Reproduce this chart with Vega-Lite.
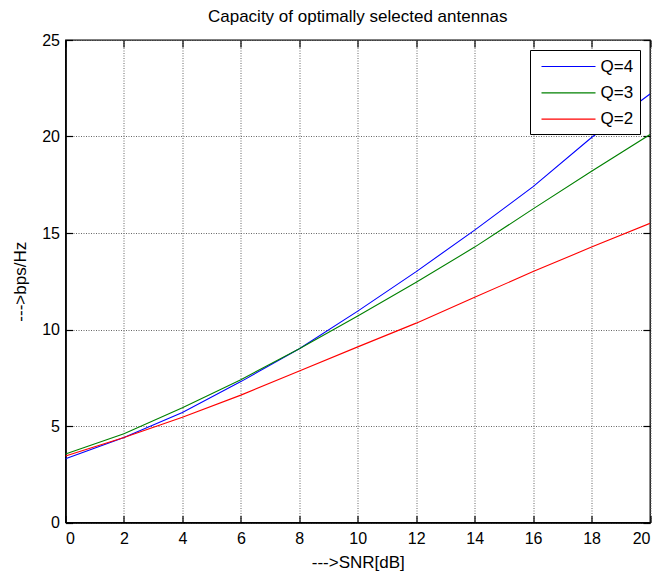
{
  "$schema": "https://vega.github.io/schema/vega-lite/v6.json",
  "width": 584.5,
  "height": 482.5,
  "autosize": "none",
  "padding": {"left": 65.5, "top": 40, "right": 22, "bottom": 48.5},
  "background": "white",
  "config": {
    "font": "Liberation Sans",
    "view": {"stroke": "black", "strokeWidth": 1.3}
  },
  "title": {
    "text": "Capacity of optimally selected antennas",
    "fontSize": 17,
    "fontWeight": "normal",
    "color": "black",
    "offset": 6,
    "anchor": "middle"
  },
  "data": {
    "values": [
      {"snr": 0, "Q": "Q=4", "c": 3.3},
      {"snr": 2, "Q": "Q=4", "c": 4.4},
      {"snr": 4, "Q": "Q=4", "c": 5.7},
      {"snr": 6, "Q": "Q=4", "c": 7.3},
      {"snr": 8, "Q": "Q=4", "c": 9.0},
      {"snr": 10, "Q": "Q=4", "c": 10.95},
      {"snr": 12, "Q": "Q=4", "c": 13.0},
      {"snr": 14, "Q": "Q=4", "c": 15.15},
      {"snr": 16, "Q": "Q=4", "c": 17.4},
      {"snr": 18, "Q": "Q=4", "c": 19.95},
      {"snr": 20, "Q": "Q=4", "c": 22.2},
      {"snr": 0, "Q": "Q=3", "c": 3.55},
      {"snr": 2, "Q": "Q=3", "c": 4.6},
      {"snr": 4, "Q": "Q=3", "c": 5.95},
      {"snr": 6, "Q": "Q=3", "c": 7.4},
      {"snr": 8, "Q": "Q=3", "c": 9.0},
      {"snr": 10, "Q": "Q=3", "c": 10.7},
      {"snr": 12, "Q": "Q=3", "c": 12.45},
      {"snr": 14, "Q": "Q=3", "c": 14.27},
      {"snr": 16, "Q": "Q=3", "c": 16.25},
      {"snr": 18, "Q": "Q=3", "c": 18.2},
      {"snr": 20, "Q": "Q=3", "c": 20.1},
      {"snr": 0, "Q": "Q=2", "c": 3.45},
      {"snr": 2, "Q": "Q=2", "c": 4.4},
      {"snr": 4, "Q": "Q=2", "c": 5.45},
      {"snr": 6, "Q": "Q=2", "c": 6.6},
      {"snr": 8, "Q": "Q=2", "c": 7.85},
      {"snr": 10, "Q": "Q=2", "c": 9.1},
      {"snr": 12, "Q": "Q=2", "c": 10.33},
      {"snr": 14, "Q": "Q=2", "c": 11.67},
      {"snr": 16, "Q": "Q=2", "c": 13.0},
      {"snr": 18, "Q": "Q=2", "c": 14.27},
      {"snr": 20, "Q": "Q=2", "c": 15.5}
    ]
  },
  "resolve": {"axis": {"x": "independent", "y": "independent"}},
  "layer": [
    {
      "mark": {"type": "line", "strokeWidth": 1.1, "clip": true},
      "encoding": {
        "x": {
          "field": "snr",
          "type": "quantitative",
          "scale": {"domain": [0, 20], "nice": false, "zero": false},
          "axis": {
            "title": "--->SNR[dB]",
            "values": [0, 2, 4, 6, 8, 10, 12, 14, 16, 18, 20],
            "format": "d",
            "grid": true,
            "gridColor": "#666666",
            "gridDash": [1, 1.5],
            "gridOpacity": 1,
            "gridWidth": 1,
            "domainColor": "black",
            "domainWidth": 1.6,
            "tickColor": "black",
            "tickWidth": 1.2,
            "tickSize": -7,
            "labelFontSize": 16,
            "labelColor": "black",
            "labelPadding": 15,
            "titleFontSize": 17,
            "titleFontWeight": "normal",
            "titleColor": "black",
            "titlePadding": 8
          }
        },
        "y": {
          "field": "c",
          "type": "quantitative",
          "scale": {"domain": [0, 25], "nice": false},
          "axis": {
            "title": "--->bps/Hz",
            "values": [0, 5, 10, 15, 20, 25],
            "grid": true,
            "gridColor": "#666666",
            "gridDash": [1, 1.5],
            "gridOpacity": 1,
            "gridWidth": 1,
            "domainColor": "black",
            "domainWidth": 1.6,
            "tickColor": "black",
            "tickWidth": 1.2,
            "tickSize": -7,
            "labelFontSize": 16,
            "labelColor": "black",
            "labelPadding": 13,
            "titleFontSize": 17,
            "titleFontWeight": "normal",
            "titleColor": "black",
            "titlePadding": 12
          }
        },
        "color": {
          "field": "Q",
          "type": "nominal",
          "scale": {"domain": ["Q=4", "Q=3", "Q=2"], "range": ["#0000FF", "#008000", "#FF0000"]},
          "legend": {
            "title": null,
            "orient": "none",
            "legendX": 464.5,
            "legendY": 10,
            "symbolType": "M-3,0H3",
            "symbolSize": 324,
            "symbolStrokeWidth": 1.2,
            "symbolOffset": 22,
            "labelFontSize": 17,
            "labelColor": "black",
            "labelOffset": 22,
            "rowPadding": 8.3,
            "padding": 6.5,
            "strokeColor": "black",
            "fillColor": "white",
            "cornerRadius": 0
          }
        }
      }
    },
    {
      "mark": {"type": "point", "opacity": 0},
      "encoding": {
        "x": {
          "field": "snr",
          "type": "quantitative",
          "scale": {"domain": [0, 20], "nice": false, "zero": false},
          "axis": {
            "orient": "top",
            "title": null,
            "labels": false,
            "grid": false,
            "domain": false,
            "values": [0, 2, 4, 6, 8, 10, 12, 14, 16, 18, 20],
            "tickColor": "black",
            "tickWidth": 1.2,
            "tickSize": -7
          }
        },
        "y": {
          "field": "c",
          "type": "quantitative",
          "scale": {"domain": [0, 25], "nice": false},
          "axis": {
            "orient": "right",
            "title": null,
            "labels": false,
            "grid": false,
            "domain": false,
            "values": [0, 5, 10, 15, 20, 25],
            "tickColor": "black",
            "tickWidth": 1.2,
            "tickSize": -7
          }
        }
      }
    }
  ]
}
